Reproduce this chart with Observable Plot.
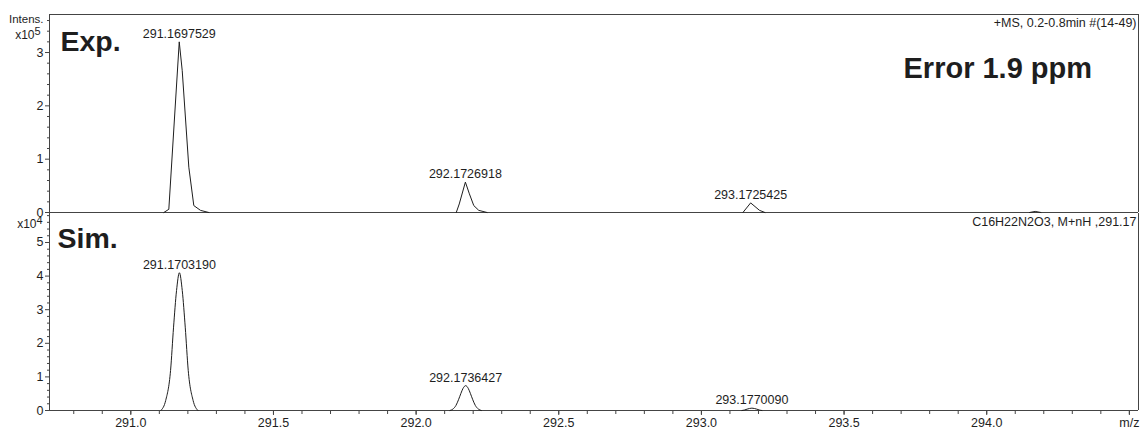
<!DOCTYPE html>
<html>
<head>
<meta charset="utf-8">
<script src="https://cdn.jsdelivr.net/npm/d3@7"></script>
<script src="https://cdn.jsdelivr.net/npm/@observablehq/plot@0.6"></script>
<style>
  body { margin: 0; background: #fff; }
  #chart { width: 1141px; }
  #chart svg { display: block; }
</style>
</head>
<body>
<div id="chart"></div>
<script>
// m/z window shared by both spectra
const mzDomain = [290.715, 294.532];

// Experimental spectrum (intensity in units of 1e5)
const expCentroids = [291.1697529, 292.1726918, 293.1725425];
const expApex = [3.2, 0.57, 0.18];
const expPeak1 = [[291.1157, 0], [291.1332, 0.06], [291.1697529, 3.2], [291.1802, 2.66], [291.2033, 0.85], [291.2208, 0.13], [291.2443, 0.04], [291.2734, 0]];
const expPeak2 = [[292.1407, 0], [292.1512, 0.16], [292.1726918, 0.57], [292.1867, 0.35], [292.2021, 0.13], [292.2196, 0.04], [292.2487, 0]];
const expPeak3 = [[293.1455, 0], [293.1725425, 0.18], [293.2037, 0.04], [293.2226, 0]];
const expPeak4 = [[294.150, 0], [294.170, 0.02], [294.190, 0]];

// Simulated isotope pattern (intensity in units of 1e4)
const simCentroids = [291.1703190, 292.1736427, 293.1770090];
const simApex = [4.1, 0.74, 0.07];
const simPeak1 = [[291.1053, 0], [291.1223, 0.30], [291.1393, 1.19], [291.1498, 2.48], [291.1603, 3.57], [291.1703190, 4.1], [291.1803, 3.57], [291.1908, 2.48], [291.2013, 1.19], [291.2183, 0.30], [291.2353, 0]];
const simPeak2 = [[292.1186, 0], [292.1286, 0.04], [292.1396, 0.15], [292.1486, 0.32], [292.1566, 0.50], [292.1646, 0.66], [292.1736427, 0.74], [292.1826, 0.66], [292.1906, 0.50], [292.1986, 0.32], [292.2076, 0.15], [292.2186, 0.04], [292.2286, 0]];
const simPeak3 = [[293.1420, 0], [293.1510, 0.015], [293.1600, 0.04], [293.1770090, 0.07], [293.1940, 0.04], [293.2030, 0.015], [293.2120, 0]];

// Axis ticks
const xTicksMajor = [291.0, 291.5, 292.0, 292.5, 293.0, 293.5, 294.0, 294.5];
const xTicksMinor = [290.8, 290.9, 291.0, 291.1, 291.2, 291.3, 291.4, 291.5, 291.6, 291.7, 291.8, 291.9,
  292.0, 292.1, 292.2, 292.3, 292.4, 292.5, 292.6, 292.7, 292.8, 292.9,
  293.0, 293.1, 293.2, 293.3, 293.4, 293.5, 293.6, 293.7, 293.8, 293.9,
  294.0, 294.1, 294.2, 294.3, 294.4, 294.5];
const yTopMajor = [0, 1, 2, 3];
const yTopMinor = [0.2, 0.4, 0.6, 0.8, 1.2, 1.4, 1.6, 1.8, 2.2, 2.4, 2.6, 2.8, 3.2, 3.4, 3.6];
const yBotMajor = [0, 1, 2, 3, 4, 5];
const yBotMinor = [0.2, 0.4, 0.6, 0.8, 1.2, 1.4, 1.6, 1.8, 2.2, 2.4, 2.6, 2.8, 3.2, 3.4, 3.6, 3.8, 4.2, 4.4, 4.6, 4.8, 5.2, 5.4, 5.6, 5.8];

// Panel text
const expTitle = "Exp.";
const simTitle = "Sim.";
const errorText = "Error 1.9 ppm";
const expHeader = "+MS, 0.2-0.8min #(14-49)";
const simHeader = "C16H22N2O3, M+nH ,291.17";
const yUnitLabel = "Intens.";
const expScale = ["x10", "5"];
const simScale = ["x10", "4"];
const xUnitLabel = "m/z";

const toRows = (peaks) => peaks.flatMap((pts, k) => pts.map(([mz, i]) => ({mz, i, peak: k})));
const labelRows = (mzs, apex) => mzs.map((mz, k) => ({mz, i: apex[k]}));

const FONT = "'Liberation Sans', Arial, Helvetica, sans-serif";
const INK = "#1e1e1e";
const FRAME = "#444";

const baseStyle = {fontFamily: FONT, fontSize: "12.5px", color: INK, background: "white", overflow: "visible"};

function corner(text, o) {
  return Plot.text([text], {text: d => d, frameAnchor: "top-left", lineAnchor: "bottom", fill: INK, ...o});
}

// ---- Experimental panel ----
const topDomainY = [0, 3.713];
const expPlot = Plot.plot({
  width: 1141,
  height: 213,
  marginLeft: 49,
  marginRight: 3,
  marginTop: 14,
  marginBottom: 1,
  style: baseStyle,
  x: {domain: mzDomain, axis: null},
  y: {domain: topDomainY},
  marks: [
    Plot.axisY(yTopMinor, {tickSize: 2, tickFormat: () => "", stroke: FRAME, label: null}),
    Plot.axisY(yTopMajor, {tickSize: 4, tickPadding: 2, tickFormat: d => String(d), stroke: FRAME, label: null, fontSize: 12.5}),
    Plot.ruleX([mzDomain[0]], {stroke: FRAME}),
    Plot.ruleX([mzDomain[1]], {stroke: FRAME}),
    Plot.ruleY([topDomainY[1]], {stroke: FRAME}),
    Plot.ruleY([0], {stroke: FRAME}),
    Plot.line(toRows([expPeak1, expPeak2, expPeak3, expPeak4]), {x: "mz", y: "i", z: "peak", stroke: INK, strokeWidth: 1}),
    Plot.text(labelRows(expCentroids, expApex), {x: "mz", y: "i", text: d => d.mz.toFixed(7), dy: -4, lineAnchor: "bottom", fontSize: 12.5, fill: INK}),
    corner(expTitle, {dx: 11, dy: 36.7, fontSize: 28.5, fontWeight: "bold", textAnchor: "start"}),
    corner(errorText, {dx: 854, dy: 63, fontSize: 29, fontWeight: "bold", textAnchor: "start"}),
    Plot.text([expHeader], {text: d => d, frameAnchor: "top-right", dx: -2, dy: 12, lineAnchor: "bottom", textAnchor: "end", fontSize: 12.5, fill: INK}),
    corner(yUnitLabel, {dx: -6, dy: 8, textAnchor: "end", fontSize: 11.5}),
    corner(expScale[0], {dx: -15, dy: 24, textAnchor: "end", fontSize: 12}),
    corner(expScale[1], {dx: -15, dy: 20.5, textAnchor: "start", fontSize: 11})
  ]
});

// ---- Simulated panel ----
const botDomainY = [0, 5.863];
const simPlot = Plot.plot({
  width: 1141,
  height: 217,
  marginLeft: 49,
  marginRight: 3,
  marginTop: 0,
  marginBottom: 20,
  style: baseStyle,
  x: {domain: mzDomain},
  y: {domain: botDomainY},
  marks: [
    Plot.axisY(yBotMinor, {tickSize: 2, tickFormat: () => "", stroke: FRAME, label: null}),
    Plot.axisY(yBotMajor, {tickSize: 4, tickPadding: 2, tickFormat: d => String(d), stroke: FRAME, label: null, fontSize: 12.5}),
    Plot.axisX(xTicksMinor, {tickSize: 4, tickFormat: () => "", stroke: FRAME, label: null}),
    Plot.axisX(xTicksMajor, {tickSize: 5, tickPadding: 3, tickFormat: d => d === 294.5 ? xUnitLabel : d.toFixed(1), stroke: FRAME, label: null, fontSize: 12.5}),
    Plot.ruleX([mzDomain[0]], {stroke: FRAME}),
    Plot.ruleX([mzDomain[1]], {stroke: FRAME}),
    Plot.ruleY([0], {stroke: FRAME}),
    Plot.line(toRows([simPeak1, simPeak2, simPeak3]), {x: "mz", y: "i", z: "peak", stroke: INK, strokeWidth: 1, curve: "monotone-x"}),
    Plot.text(labelRows(simCentroids, simApex), {x: "mz", y: "i", text: d => d.mz.toFixed(7), dy: -4, lineAnchor: "bottom", fontSize: 12.5, fill: INK}),
    corner(simTitle, {dx: 8, dy: 34.7, fontSize: 28.5, fontWeight: "bold", textAnchor: "start"}),
    Plot.text([simHeader], {text: d => d, frameAnchor: "top-right", dx: -2, dy: 12, lineAnchor: "bottom", textAnchor: "end", fontSize: 12.5, fill: INK}),
    corner(simScale[0], {dx: -13, dy: 14, textAnchor: "end", fontSize: 12}),
    corner(simScale[1], {dx: -13, dy: 10, textAnchor: "start", fontSize: 11})
  ]
});

const host = document.getElementById("chart");
host.appendChild(expPlot);
host.appendChild(simPlot);
</script>
</body>
</html>
